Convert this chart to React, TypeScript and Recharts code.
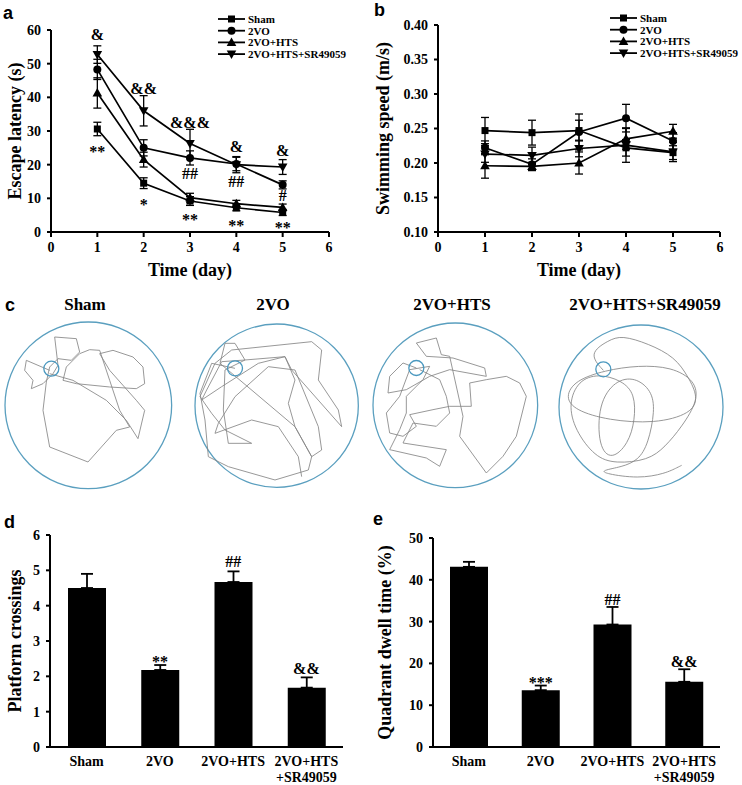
import React from 'react';
import {
  ComposedChart,
  Line,
  Bar,
  XAxis,
  YAxis,
  ErrorBar,
  Scatter,
  ScatterChart,
  ReferenceDot,
  Legend,
} from 'recharts';

const SERIF = '"Liberation Serif", "Times New Roman", serif';
const SANS = '"Liberation Sans", Arial, sans-serif';

// ---------- shared ----------
const days = [1, 2, 3, 4, 5];
const dayTicks = [0, 1, 2, 3, 4, 5, 6];
const groups = ['Sham', '2VO', '2VO+HTS', '2VO+HTS+SR49059'];
const groupTickLines = [['Sham'], ['2VO'], ['2VO+HTS'], ['2VO+HTS', '+SR49059']];
const markerKinds = ['square', 'circle', 'triangle', 'invTriangle'];
const seriesKeys = ['sham', 'vo', 'hts', 'sr'];

// ---------- panel a: escape latency ----------
const latencySham = [30.6, 14.5, 9.2, 7.2, 5.8];
const latencyShamErr = [2.0, 1.6, 1.3, 0.9, 0.9];
const latency2VO = [48.3, 25.0, 22.0, 20.2, 14.0];
const latency2VOErr = [3.0, 2.4, 2.1, 2.0, 1.2];
const latencyHTS = [41.3, 21.5, 10.2, 8.4, 7.3];
const latencyHTSErr = [4.5, 2.2, 1.3, 1.0, 1.0];
const latencySR = [52.7, 36.0, 26.3, 20.0, 19.3];
const latencySRErr = [2.6, 4.5, 4.2, 2.4, 2.2];
const latencyTicks = [0, 10, 20, 30, 40, 50, 60];

const latencyMarkDay = [1, 1, 2, 2, 3, 3, 3, 4, 4, 4, 5, 5, 5];
const latencyMarkY = [58.7, 25.3, 42.5, 9.7, 32.5, 17.4, 5.1, 25.3, 15.0, 3.4, 24.1, 10.7, 2.7];
const latencyMarkText = ['&', '**', '&&', '*', '&&&', '##', '**', '&', '##', '**', '&', '#', '**'];

// ---------- panel b: swimming speed ----------
const speedSham = [0.247, 0.244, 0.247, 0.222, 0.215];
const speedShamErr = [0.019, 0.018, 0.015, 0.012, 0.01];
const speed2VO = [0.222, 0.198, 0.245, 0.265, 0.232];
const speed2VOErr = [0.01, 0.008, 0.026, 0.02, 0.012];
const speedHTS = [0.196, 0.195, 0.2, 0.235, 0.246];
const speedHTSErr = [0.018, 0.006, 0.016, 0.015, 0.01];
const speedSR = [0.213, 0.211, 0.221, 0.226, 0.216];
const speedSRErr = [0.012, 0.012, 0.012, 0.025, 0.014];
const speedTicks = [0.1, 0.15, 0.2, 0.25, 0.3, 0.35, 0.4];

// ---------- panel d: platform crossings ----------
const crossings = [4.5, 2.18, 4.67, 1.68];
const crossingsErr = [0.4, 0.14, 0.3, 0.29];
const crossingsMark = ['', '**', '##', '&&'];
const crossingsMarkY = [null, 2.57, 5.24, 2.22];
const crossingsTicks = [0, 1, 2, 3, 4, 5, 6];

// ---------- panel e: quadrant dwell time ----------
const dwell = [43.1, 13.6, 29.3, 15.6];
const dwellErr = [1.2, 1.1, 4.2, 3.0];
const dwellMark = ['', '***', '##', '&&'];
const dwellMarkY = [null, 16.6, 35.4, 20.4];
const dwellTicks = [0, 10, 20, 30, 40, 50];

// ---------- panel c: swim tracks (camera pixel units) ----------
const shamTrace: [number, number][] = [
  [150, 300], [80, 270], [75, 300], [100, 330], [95, 355], [130, 340], [160, 310], [175, 285],
  [165, 200], [230, 205], [240, 245], [215, 270], [175, 265], [150, 290], [140, 335], [130, 420],
  [150, 530], [265, 575], [350, 480], [390, 470], [360, 420], [330, 330], [300, 240], [270, 238],
  [240, 250], [200, 290], [190, 330], [230, 340], [330, 350], [410, 355], [435, 340], [430, 290],
  [400, 260], [340, 240], [300, 250], [330, 300], [410, 390], [435, 420], [415, 505], [380, 450],
  [320, 390], [220, 330], [150, 310],
];
const voTrace: [number, number][] = [
  [150, 295], [80, 280], [45, 370], [60, 450], [70, 560], [130, 590], [270, 630], [370, 600],
  [380, 560], [330, 470], [310, 400], [330, 330], [300, 260], [180, 270], [110, 275], [65, 360],
  [50, 390], [110, 350], [220, 280], [300, 260], [320, 300], [470, 470], [460, 420], [400, 330],
  [410, 240], [380, 215], [140, 240], [90, 280], [45, 380], [80, 430], [120, 480], [200, 520],
  [130, 520], [115, 420], [120, 300], [180, 270], [150, 220], [120, 220], [105, 280], [330, 470],
  [380, 560], [410, 540], [400, 470], [330, 300], [250, 290], [150, 380], [100, 460], [90, 490],
  [200, 450], [280, 470], [340, 560], [350, 620],
];
const htsTrace: [number, number][] = [
  [140, 295], [100, 280], [60, 320], [55, 370], [110, 360], [180, 320], [240, 300], [350, 320],
  [345, 295], [250, 265], [170, 260], [140, 220], [200, 205], [215, 255], [240, 260], [280, 440],
  [270, 500], [350, 610], [400, 560], [440, 500], [470, 380], [450, 340], [410, 320], [350, 330],
  [300, 340], [305, 410], [240, 410], [190, 420], [120, 435], [140, 470], [100, 500], [60, 490],
  [50, 430], [90, 380], [120, 300], [180, 290], [160, 330], [110, 380], [110, 430], [90, 480],
  [60, 540], [170, 565], [210, 590], [230, 540], [100, 520], [130, 460], [200, 470], [240, 430],
  [230, 380], [210, 330], [150, 300],
];
const srTrace: [number, number][] = [
  [145, 300], [100, 250], [160, 210], [200, 195], [280, 220], [360, 260], [400, 320], [430, 380],
  [410, 430], [300, 460], [160, 450], [60, 420], [30, 380], [60, 330], [150, 300], [250, 285],
  [350, 290], [420, 330], [430, 390], [380, 470], [330, 530], [280, 570], [180, 580], [120, 560],
  [60, 480], [40, 400], [70, 330], [130, 310], [200, 330], [240, 370], [240, 450], [220, 520],
  [170, 570], [130, 530], [130, 400], [180, 330], [240, 320], [290, 360], [300, 420], [280, 520],
  [250, 570], [200, 590], [140, 600], [150, 610], [250, 625], [330, 610], [370, 590], [380, 585],
];
const poolCenters: [number, number][] = [[266, 405], [275, 407], [257, 407], [258, 410]];
const poolRadii = [250, 245, 247, 246];
const platforms: [number, number][] = [[155, 295], [150, 295], [140, 295], [145, 297]];
const poolTraces = [shamTrace, voTrace, htsTrace, srTrace];

// ---------- styles ----------
const tickStyle = { fontFamily: SERIF, fontWeight: 700, fontSize: 14, fill: '#000' };
const axisStroke = { stroke: '#000', strokeWidth: 2 };
const titleStyle: React.CSSProperties = { fontFamily: SERIF, fontWeight: 700, fontSize: 18, fill: '#000' };
const markStyle: React.CSSProperties = { fontFamily: SERIF, fontWeight: 700, fontSize: 16, fill: '#000' };

// ---------- data tables ----------
const latencyData = days.map((d, i) => ({
  day: d,
  sham: latencySham[i], shamErr: latencyShamErr[i],
  vo: latency2VO[i], voErr: latency2VOErr[i],
  hts: latencyHTS[i], htsErr: latencyHTSErr[i],
  sr: latencySR[i], srErr: latencySRErr[i],
}));
const speedData = days.map((d, i) => ({
  day: d,
  sham: speedSham[i], shamErr: speedShamErr[i],
  vo: speed2VO[i], voErr: speed2VOErr[i],
  hts: speedHTS[i], htsErr: speedHTSErr[i],
  sr: speedSR[i], srErr: speedSRErr[i],
}));
const latencyMarks = latencyMarkDay.map((d, i) => ({ day: d, y: latencyMarkY[i], text: latencyMarkText[i] }));
const crossingsData = groups.map((g, i) => ({
  name: g, value: crossings[i], err: [0, crossingsErr[i]], markY: crossingsMarkY[i], mark: crossingsMark[i],
}));
const dwellData = groups.map((g, i) => ({
  name: g, value: dwell[i], err: [0, dwellErr[i]], markY: dwellMarkY[i], mark: dwellMark[i],
}));

// ---------- helpers ----------
function Marker({ kind, cx, cy }: { kind: string; cx: number; cy: number }) {
  if (kind === 'square') return <rect x={cx - 3.5} y={cy - 3.5} width={7} height={7} fill="#000" />;
  if (kind === 'circle') return <circle cx={cx} cy={cy} r={4} fill="#000" />;
  if (kind === 'triangle')
    return <polygon points={`${cx},${cy - 5} ${cx - 4.8},${cy + 3.5} ${cx + 4.8},${cy + 3.5}`} fill="#000" />;
  return <polygon points={`${cx},${cy + 5} ${cx - 4.8},${cy - 3.5} ${cx + 4.8},${cy - 3.5}`} fill="#000" />;
}

const makeDot = (kind: string, key: string) => (p: any) => {
  if (p.cx == null || p.cy == null) return <g key={`${key}-${p.index}`} />;
  return <Marker key={`${key}-${p.index}`} kind={kind} cx={p.cx} cy={p.cy} />;
};

const markText = (text: string, x: number, y: number, key: string) => (
  <text
    key={key}
    x={x}
    y={y}
    dy={text.includes('*') ? 5 : 0}
    textAnchor="middle"
    dominantBaseline="central"
    style={markStyle}
  >
    {text}
  </text>
);

const renderScatterMark = (p: any) => markText(p.payload.text, p.cx, p.cy, `m-${p.payload.day}-${p.payload.y}`);
const renderBarMark = (p: any) => {
  if (!p.payload.mark || p.cy == null) return <g key={`bm-${p.index}`} />;
  return markText(p.payload.mark, p.cx, p.cy, `bm-${p.index}`);
};

const xTitle = (text: string, dy: number) => (props: any) => {
  const vb = props.viewBox || {};
  return (
    <text x={vb.x + vb.width / 2} y={vb.y + dy} textAnchor="middle" dominantBaseline="central" style={titleStyle}>
      {text}
    </text>
  );
};
const yTitle = (text: string, dx: number) => (props: any) => {
  const vb = props.viewBox || {};
  const x = vb.x + dx;
  const y = vb.y + vb.height / 2;
  return (
    <text
      x={x}
      y={y}
      transform={`rotate(-90, ${x}, ${y})`}
      textAnchor="middle"
      dominantBaseline="central"
      style={titleStyle}
    >
      {text}
    </text>
  );
};

const LegendBox = () => (
  <svg width={140} height={50}>
    {groups.map((g, i) => {
      const y = 6 + i * 11.7;
      return (
        <g key={g}>
          <line x1={0} y1={y} x2={27} y2={y} stroke="#000" strokeWidth={1.8} />
          <Marker kind={markerKinds[i]} cx={13.5} cy={y} />
          <text x={30} y={y} dominantBaseline="central" style={{ fontFamily: SERIF, fontWeight: 700, fontSize: 11 }}>
            {g}
          </text>
        </g>
      );
    })}
  </svg>
);

const BarTick = (props: any) => {
  const { x, y, payload } = props;
  const idx = groups.indexOf(payload.value);
  const lines = groupTickLines[idx] || [payload.value];
  return (
    <text x={x} y={y} textAnchor="middle" style={tickStyle}>
      {lines.map((l, i) => (
        <tspan key={l} x={x} dy={i === 0 ? 19 : 16}>
          {l}
        </tspan>
      ))}
    </text>
  );
};

function LinePanel({
  data, domain, ticks, yLabel, legendLeft, legendTop, width, marginTop, marginRight, yWidth, titleDx, fmt, marks,
}: any) {
  return (
    <ComposedChart
      width={width}
      height={285}
      data={data}
      margin={{ top: marginTop, right: marginRight, bottom: 0, left: 0 }}
    >
      <XAxis
        type="number"
        dataKey="day"
        domain={[0, 6]}
        ticks={dayTicks}
        interval={0}
        height={53}
        tick={tickStyle}
        tickSize={5}
        tickMargin={5}
        axisLine={axisStroke}
        tickLine={axisStroke}
        label={{ content: xTitle('Time (day)', 38) }}
      />
      <YAxis
        type="number"
        domain={domain}
        ticks={ticks}
        interval={0}
        width={yWidth}
        tick={tickStyle}
        tickSize={4}
        tickMargin={6}
        tickFormatter={fmt}
        axisLine={axisStroke}
        tickLine={axisStroke}
        label={{ content: yTitle(yLabel, titleDx) }}
      />
      {seriesKeys.map((k, i) => (
        <Line
          key={k}
          dataKey={k}
          name={groups[i]}
          stroke="#000"
          strokeWidth={1.7}
          dot={makeDot(markerKinds[i], k)}
          activeDot={false}
          isAnimationActive={false}
        >
          <ErrorBar dataKey={`${k}Err`} width={4} stroke="#000" strokeWidth={1.3} direction="y" />
        </Line>
      ))}
      {marks && (
        <Scatter data={marks} dataKey="y" shape={renderScatterMark} isAnimationActive={false} legendType="none" />
      )}
      <Legend
        layout="vertical"
        align="center"
        verticalAlign="middle"
        content={() => <LegendBox />}
        wrapperStyle={{ left: legendLeft, top: legendTop, width: 140, height: 50 }}
      />
    </ComposedChart>
  );
}

function BarPanel({ data, domain, ticks, yLabel, width, marginTop, marginRight, yWidth }: any) {
  return (
    <ComposedChart
      width={width}
      height={315}
      data={data}
      margin={{ top: marginTop, right: marginRight, bottom: 0, left: 0 }}
      barCategoryGap="10%"
    >
      <XAxis
        dataKey="name"
        type="category"
        height={38}
        interval={0}
        tick={<BarTick />}
        tickSize={0}
        tickMargin={0}
        tickLine={false}
        axisLine={axisStroke}
      />
      <YAxis
        type="number"
        domain={domain}
        ticks={ticks}
        interval={0}
        width={yWidth}
        tick={tickStyle}
        tickSize={4}
        tickMargin={6}
        axisLine={axisStroke}
        tickLine={axisStroke}
        label={{ content: yTitle(yLabel, 15) }}
      />
      <Bar dataKey="value" fill="#000" barSize={38} isAnimationActive={false}>
        <ErrorBar dataKey="err" width={6} stroke="#000" strokeWidth={1.8} direction="y" />
      </Bar>
      <Line
        dataKey="markY"
        stroke="none"
        dot={renderBarMark}
        activeDot={false}
        isAnimationActive={false}
        legendType="none"
      />
    </ComposedChart>
  );
}

function Pool({ index, offset }: { index: number; offset: [number, number] }) {
  const center = poolCenters[index];
  const R = poolRadii[index];
  const rpx = R / 3;
  const pad = 3;
  const size = 2 * rpx + 2 * pad;
  const sx = offset[0] + center[0] / 3;
  const sy = offset[1] + center[1] / 3;
  const data = poolTraces[index].map(([x, y]) => ({ x, y }));
  return (
    <div style={{ position: 'absolute', left: sx - rpx - pad, top: sy - rpx - pad }}>
      <ScatterChart width={size} height={size} margin={{ top: pad, right: pad, bottom: pad, left: pad }}>
        <XAxis type="number" dataKey="x" domain={[center[0] - R, center[0] + R]} hide allowDataOverflow />
        <YAxis type="number" dataKey="y" domain={[center[1] - R, center[1] + R]} reversed hide allowDataOverflow />
        <ReferenceDot
          x={center[0]}
          y={center[1]}
          r={rpx}
          fill="none"
          stroke="#5a9fbf"
          strokeWidth={1.3}
          ifOverflow="visible"
        />
        <Scatter
          data={data}
          line={{ stroke: '#858585', strokeWidth: 0.85 }}
          lineJointType={index === 3 ? 'basis' : 'linear'}
          shape={() => <g />}
          isAnimationActive={false}
        />
        <ReferenceDot
          x={platforms[index][0]}
          y={platforms[index][1]}
          r={7.5}
          fill="none"
          stroke="#4a98bf"
          strokeWidth={1.3}
          ifOverflow="visible"
        />
      </ScatterChart>
    </div>
  );
}

const letterStyle: React.CSSProperties = {
  position: 'absolute',
  fontFamily: SANS,
  fontWeight: 700,
  fontSize: 18,
  lineHeight: '18px',
};
const poolTitleStyle: React.CSSProperties = {
  position: 'absolute',
  fontFamily: SERIF,
  fontWeight: 700,
  fontSize: 17,
  lineHeight: '18px',
  width: 200,
  textAlign: 'center',
};
const poolOffsets: [number, number][] = [[0, 270], [185, 270], [370, 270], [555, 270]];
const poolTitleX = [85, 273, 452, 645];

export default function App() {
  return (
    <div style={{ position: 'absolute', left: 0, top: 0, width: 742, height: 785, background: '#fff' }}>
      <div style={{ position: 'absolute', left: 0, top: 0 }}>
        <LinePanel
          data={latencyData}
          domain={[0, 60]}
          ticks={latencyTicks}
          yLabel="Escape latency (s)"
          legendLeft={218}
          legendTop={13}
          width={370}
          marginTop={30}
          marginRight={41}
          yWidth={51}
          titleDx={14.5}
          marks={latencyMarks}
        />
      </div>
      <div style={{ position: 'absolute', left: 370, top: 0 }}>
        <LinePanel
          data={speedData}
          domain={[0.1, 0.4]}
          ticks={speedTicks}
          yLabel="Swimming speed (m/s)"
          legendLeft={240}
          legendTop={12}
          width={372}
          marginTop={25}
          marginRight={22}
          yWidth={68}
          titleDx={13}
          fmt={(v: number) => v.toFixed(2)}
        />
      </div>

      {poolOffsets.map((o, i) => (
        <Pool key={i} index={i} offset={o} />
      ))}
      {groups.map((g, i) => (
        <div key={g} style={{ ...poolTitleStyle, left: poolTitleX[i] - 100, top: 296 }}>
          {g}
        </div>
      ))}

      <div style={{ position: 'absolute', left: 0, top: 470 }}>
        <BarPanel
          data={crossingsData}
          domain={[0, 6]}
          ticks={crossingsTicks}
          yLabel="Platform crossings"
          width={370}
          marginTop={65}
          marginRight={27}
          yWidth={50}
        />
      </div>
      <div style={{ position: 'absolute', left: 370, top: 470 }}>
        <BarPanel
          data={dwellData}
          domain={[0, 50]}
          ticks={dwellTicks}
          yLabel="Quadrant dwell time (%)"
          width={372}
          marginTop={68}
          marginRight={22}
          yWidth={63}
        />
      </div>

      <div style={{ ...letterStyle, left: 3, top: 4 }}>a</div>
      <div style={{ ...letterStyle, left: 374, top: 1 }}>b</div>
      <div style={{ ...letterStyle, left: 5, top: 296 }}>c</div>
      <div style={{ ...letterStyle, left: 4, top: 513 }}>d</div>
      <div style={{ ...letterStyle, left: 373, top: 510 }}>e</div>
    </div>
  );
}
